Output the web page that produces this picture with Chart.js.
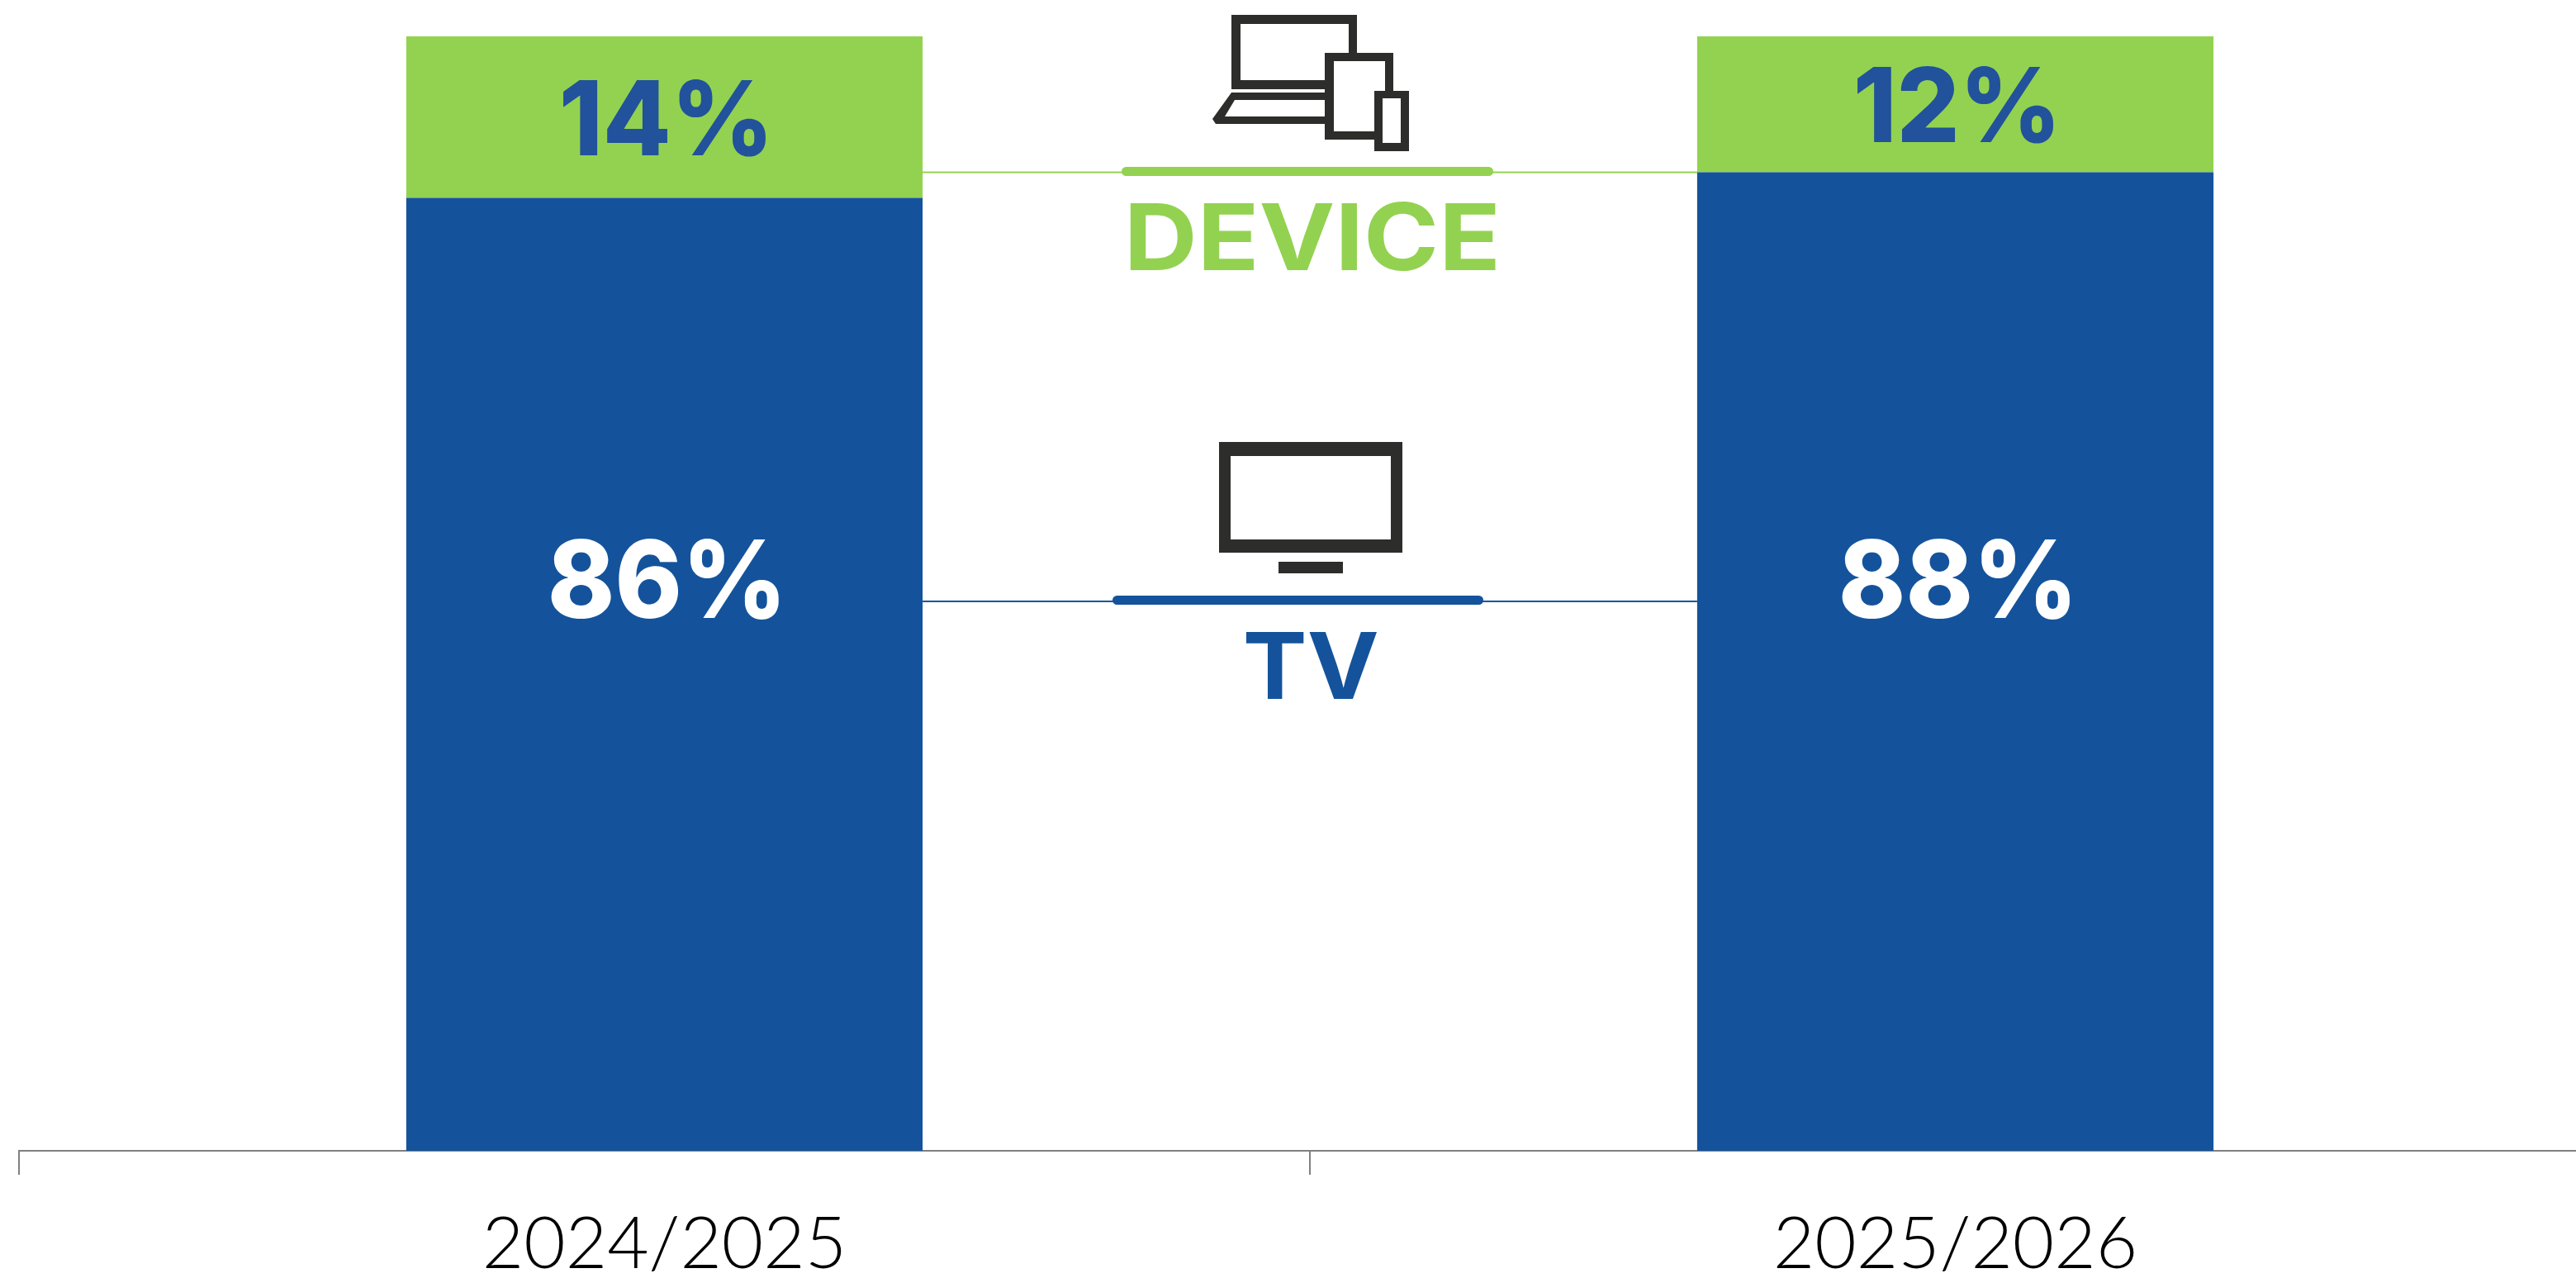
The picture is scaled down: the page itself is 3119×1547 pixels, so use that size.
<!DOCTYPE html>
<html>
<head>
<meta charset="utf-8">
<title>TV and device share</title>
<script src="https://cdn.jsdelivr.net/npm/chart.js@4"></script>
<style>
  html, body { margin: 0; padding: 0; background: #fff; overflow: hidden; }
  canvas { display: block; }
</style>
</head>
<body>
<canvas id="share-chart" width="3150" height="1547"></canvas>
<script>
const seasons = ["2024/2025", "2025/2026"];
const tvValues = [85.5, 87.8];
const deviceValues = [14.5, 12.2];
const tvLabels = ["86%", "88%"];
const deviceLabels = ["14%", "12%"];

const BLUE = "#14539c";
const GREEN = "#93d250";
const LABEL_BLUE = "#21529b";
const DARK = "#2d2d2c";
const BOLD_FONT = '"Inter", "Lato", sans-serif';

// squeezes or stretches bold text so it fills the wanted width
function fitText(ctx, text, cx, baseline, font, width, color) {
  ctx.save();
  ctx.font = font + " " + BOLD_FONT;
  ctx.textAlign = "left";
  ctx.textBaseline = "alphabetic";
  ctx.fillStyle = color;
  const box = ctx.measureText(text);
  const inkWidth = box.actualBoundingBoxLeft + box.actualBoundingBoxRight;
  const sx = width / inkWidth;
  ctx.translate(cx - width / 2, baseline);
  ctx.scale(sx, 1);
  ctx.fillText(text, box.actualBoundingBoxLeft, 0);
  ctx.restore();
}

function pill(ctx, x1, x2, y1, y2, color) {
  ctx.fillStyle = color;
  ctx.beginPath();
  ctx.roundRect(x1, y1, x2 - x1, y2 - y1, (y2 - y1) / 2);
  ctx.fill();
}

function frame(ctx, ox1, oy1, ox2, oy2, ix1, iy1, ix2, iy2) {
  ctx.fillStyle = DARK;
  ctx.fillRect(ox1, oy1, ox2 - ox1, oy2 - oy1);
  ctx.fillStyle = "#fff";
  ctx.fillRect(ix1, iy1, ix2 - ix1, iy2 - iy1);
}

function drawDeviceIcon(ctx) {
  frame(ctx, 1491, 18, 1643, 108, 1502, 29, 1633, 97);
  // laptop base
  ctx.fillStyle = DARK;
  ctx.beginPath();
  ctx.moveTo(1491, 112);
  ctx.lineTo(1610, 112);
  ctx.lineTo(1610, 150);
  ctx.lineTo(1472, 150);
  ctx.lineTo(1468, 144);
  ctx.closePath();
  ctx.fill();
  ctx.fillStyle = "#fff";
  ctx.beginPath();
  ctx.moveTo(1495, 121);
  ctx.lineTo(1610, 121);
  ctx.lineTo(1610, 141);
  ctx.lineTo(1483, 141);
  ctx.closePath();
  ctx.fill();
  frame(ctx, 1604, 64, 1687, 169, 1615, 74, 1677, 159);
  frame(ctx, 1664, 110, 1706, 183, 1674, 119, 1696, 173);
}

function drawTvIcon(ctx) {
  frame(ctx, 1476, 535, 1698, 669, 1490, 552, 1684, 653);
  ctx.fillStyle = DARK;
  ctx.fillRect(1548, 680, 78, 14);
}

const annotations = {
  id: "annotations",
  afterDatasetsDraw(chart) {
    const ctx = chart.ctx;
    const x = chart.scales.x;
    const y = chart.scales.y;
    const tvBars = chart.getDatasetMeta(0).data;

    // connectors between the two bars
    const gapLeft = tvBars[0].x + tvBars[0].width / 2;
    const gapRight = tvBars[1].x - tvBars[1].width / 2;
    ctx.fillStyle = GREEN;
    ctx.fillRect(gapLeft, y.getPixelForValue(tvValues[1]) - 1, gapRight - gapLeft, 2);
    ctx.fillStyle = BLUE;
    ctx.fillRect(gapLeft, y.getPixelForValue(49.3) - 1, gapRight - gapLeft, 2);
    pill(ctx, 1358, 1808, 202, 213, GREEN);
    pill(ctx, 1347, 1796, 721, 732, BLUE);

    drawDeviceIcon(ctx);
    drawTvIcon(ctx);
    fitText(ctx, "DEVICE", 1590, 327, "700 112px", 443, GREEN);
    fitText(ctx, "TV", 1588, 846, "700 112px", 158, BLUE);

    // values on the bars
    seasons.forEach((s, i) => {
      const cx = x.getPixelForValue(i);
      const deviceMid = y.getPixelForValue(tvValues[i] + deviceValues[i] / 2);
      fitText(ctx, deviceLabels[i], cx, deviceMid + 46, "800 125px", i === 0 ? 246 : 238, LABEL_BLUE);
      fitText(ctx, tvLabels[i], cx + 1, y.getPixelForValue(47.8), "800 130px", 276, "#fff");
    });
  },
};

new Chart(document.getElementById("share-chart"), {
  type: "bar",
  data: {
    labels: seasons,
    datasets: [
      { label: "TV", data: tvValues, backgroundColor: BLUE, barPercentage: 0.4, categoryPercentage: 1 },
      { label: "Device", data: deviceValues, backgroundColor: GREEN, barPercentage: 0.4, categoryPercentage: 1 },
    ],
  },
  options: {
    responsive: false,
    animation: false,
    layout: { padding: { left: 23, right: 1, top: 44, bottom: 0 } },
    plugins: { legend: { display: false }, tooltip: { enabled: false } },
    scales: {
      x: {
        stacked: true,
        afterFit(scale) {
          scale.height = 154;
        },
        border: { color: "#808080", width: 2 },
        grid: { drawOnChartArea: false, color: "#808080", lineWidth: 2, tickLength: 29 },
        ticks: {
          autoSkip: false,
          maxRotation: 0,
          color: "#000",
          padding: 33,
          font: { family: "Lato", weight: "300", size: 87 },
        },
      },
      y: { stacked: true, display: false, min: 0, max: 100 },
    },
  },
  plugins: [annotations],
});
</script>
</body>
</html>
